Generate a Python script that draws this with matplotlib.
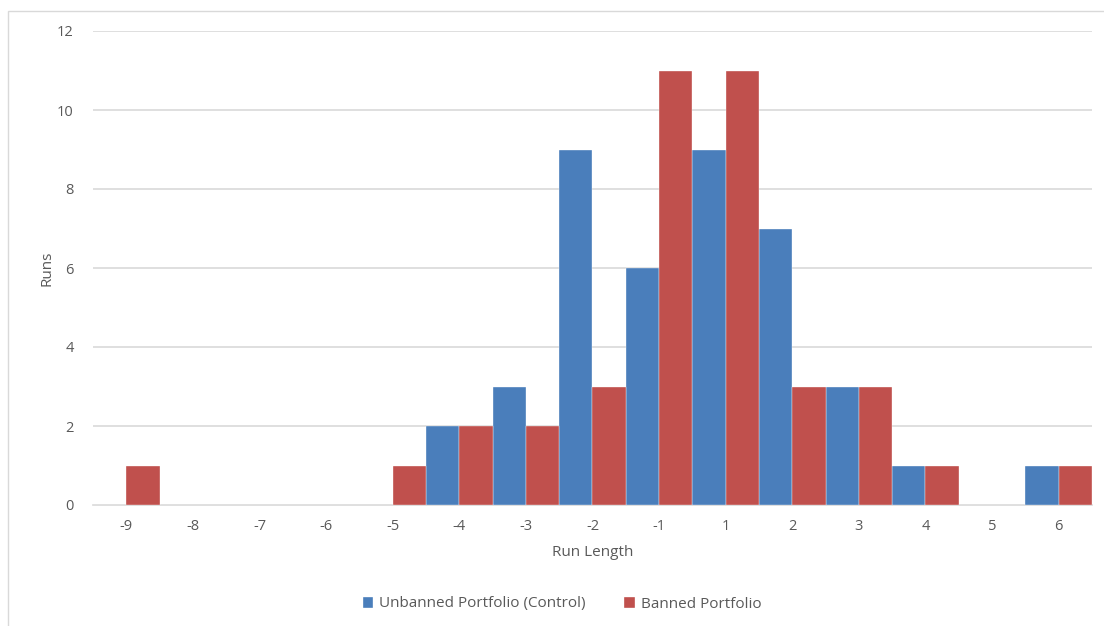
import matplotlib.pyplot as plt
import matplotlib.patches as patches
import numpy as np

# run lengths (no zero-length runs)
run_lengths = ['-9', '-8', '-7', '-6', '-5', '-4', '-3', '-2', '-1', '1', '2', '3', '4', '5', '6']
unbanned = [0, 0, 0, 0, 0, 2, 3, 9, 6, 9, 7, 3, 1, 0, 1]
banned = [1, 0, 0, 0, 1, 2, 2, 3, 11, 11, 3, 3, 1, 0, 1]

blue = '#4A7EBB'
red = '#C0504D'
text_col = '#595959'
grid_col = '#D9D9D9'

plt.rcParams['font.family'] = ['Open Sans', 'DejaVu Sans']

fig = plt.figure(figsize=(11.04, 6.26), dpi=100)
ax = fig.add_axes([93 / 1104, 1 - 505 / 626, 999 / 1104, 474 / 626])

x = np.arange(len(run_lengths))
w = 0.5
ax.bar(x - w / 2, unbanned, width=w, color=blue, edgecolor='white', linewidth=0.25,
       label='Unbanned Portfolio (Control)', zorder=3)
ax.bar(x + w / 2, banned, width=w, color=red, edgecolor='white', linewidth=0.25,
       label='Banned Portfolio', zorder=3)

ax.set_xlim(-0.5, len(run_lengths) - 0.5)
ax.set_ylim(0, 12)
ax.set_yticks(range(0, 13, 2))
ax.set_xticks(x)
ax.set_xticklabels(run_lengths)
ax.yaxis.grid(True, color=grid_col, linewidth=1.2, zorder=0)
ax.tick_params(length=0, labelsize=10.5, labelcolor=text_col, pad=14)
ax.tick_params(axis='x', pad=10)
for s in ['top', 'right', 'left']:
    ax.spines[s].set_visible(False)
ax.spines['bottom'].set_color(grid_col)
ax.spines['bottom'].set_linewidth(1.2)

ax.set_xlabel('Run Length', fontsize=11, color=text_col, labelpad=8)
ax.set_ylabel('Runs', fontsize=11, color=text_col, labelpad=2)

leg = fig.legend(loc='center', bbox_to_anchor=(562 / 1104, 1 - 604 / 626), ncol=2,
                 frameon=False, fontsize=11, handlelength=0.7, handleheight=0.7,
                 handletextpad=0.4, columnspacing=2.5)
for t in leg.get_texts():
    t.set_color(text_col)

# chart frame
fig.patches.append(patches.Rectangle((8 / 1104, -0.01), 1.02, 1 - 11 / 626 + 0.01,
                                     transform=fig.transFigure, fill=False,
                                     edgecolor='#D9D9D9', linewidth=1))

fig.savefig('out.png', dpi=100)
